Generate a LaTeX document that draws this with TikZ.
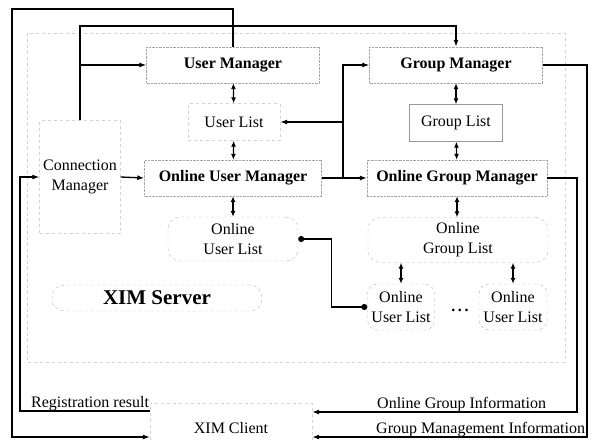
\documentclass[tikz,border=0pt]{standalone}
\usepackage{fontspec}
\setmainfont{Liberation Serif}
\usetikzlibrary{arrows.meta}
\tikzset{
  mgr/.style={draw=gray!70, densely dotted, minimum width=#1, minimum height=36, font=\fontsize{16}{20}\selectfont\bfseries},
  box/.style={draw=gray!35, dashed, line width=0.4pt, inner sep=0pt, align=center},
  lst/.style={draw=gray!60, dashed, rounded corners=12, align=center, inner sep=0pt},
  arr/.style={-{Latex[length=7pt,width=5pt]}, line width=1.3pt},
  dbl/.style={{Latex[length=6pt,width=5pt]}-{Latex[length=6pt,width=5pt]}, line width=1.3pt},
  dotline/.style={{Circle[length=6pt]}-{Circle[length=6pt]}, line width=1.3pt},
}
\begin{document}
\begin{tikzpicture}[x=1pt,y=-1pt,font=\fontsize{16}{20}\selectfont]
\useasboundingbox (0,0) rectangle (610,439);
\draw[gray!35, dashed, line width=0.4pt] (27,33) rectangle (565,362);
\node[mgr=173] (um) at (233,65) {User Manager};
\node[box, minimum width=92, minimum height=37] (ul) at (234,122) {User List};
\node[mgr=177] (oum) at (233,178) {Online User Manager};
\node[lst, minimum width=130, minimum height=44] (oul) at (233,239) {Online\\User List};
\node[lst, minimum width=210, minimum height=26, font=\fontsize{21}{24}\selectfont\bfseries] (xs) at (157,298) {XIM Server};
\node[mgr=173] (gm) at (456,65) {Group Manager};
\node[box, draw=gray!80, solid, minimum width=93, minimum height=37] (gl) at (456,123) {Group List};
\node[mgr=180] (ogm) at (457,178) {Online Group Manager};
\node[lst, minimum width=180, minimum height=45] (ogl) at (458,240) {Online\\Group List};
\node[lst, rounded corners=10, minimum width=67, minimum height=46] (oula) at (401,307) {Online\\User List};
\node[lst, rounded corners=10, minimum width=68, minimum height=46] (oulb) at (513,307) {Online\\User List};
\node (dots) at (460,310) {\textbf{.\,.\,.}};
\node[box, minimum width=81, minimum height=113] (cm) at (80,177) {Connection\\Manager};
\node[box, minimum width=162, minimum height=50] (xc) at (231,428) {XIM Client};
\coordinate (topA) at (12,9);
\coordinate (topB) at (80,26);
\coordinate (rl) at (20,411);
\coordinate (jn) at (343,178);
\coordinate (gmr) at (587,437);
\coordinate (ogmr) at (577,412);
\draw[arr] (um.north) |- (topA) |- ([yshift=-9pt]xc.west);
\draw[arr] (cm.north) -- (topB) -| (gm.north);
\draw[arr] (cm.north |- um.west) -- (um.west);
\draw[arr] ([yshift=17pt]xc.west) -- (rl) |- (cm.west);
\draw[arr] (cm.east) -- (oum.west);
\draw[arr] (oum.east) -- (ogm.west);
\draw[arr] (jn) |- (gm.west);
\draw[arr] (jn |- ul.east) -- (ul.east);
\draw[arr] (gm.east) -| (gmr) -- ([yshift=-9pt]xc.east);
\draw[arr] (ogm.east) -| (ogmr) -- ([yshift=16pt]xc.east);
\draw[dotline] (oul.east) -- ++(33,0) |- (oula.west);
\draw[dbl] (um) -- (ul);
\draw[dbl] (ul) -- (oum);
\draw[dbl] (oum) -- (oul);
\draw[dbl] (gm) -- (gl);
\draw[dbl] (gl) -- (ogm);
\draw[dbl] (ogm.south) -- (ogm.south |- ogl.north);
\draw[dbl] (oula.north |- ogl.south) -- (oula.north);
\draw[dbl] (oulb.north |- ogl.south) -- (oulb.north);
\node[anchor=base west, inner sep=0pt] (rr) at (31,407) {Registration result};
\node[anchor=base west, inner sep=0pt] (ogi) at (377,408) {Online Group Information};
\node[anchor=base west, inner sep=0pt] (gmi) at (376,433) {Group Management Information};
\end{tikzpicture}
\end{document}
